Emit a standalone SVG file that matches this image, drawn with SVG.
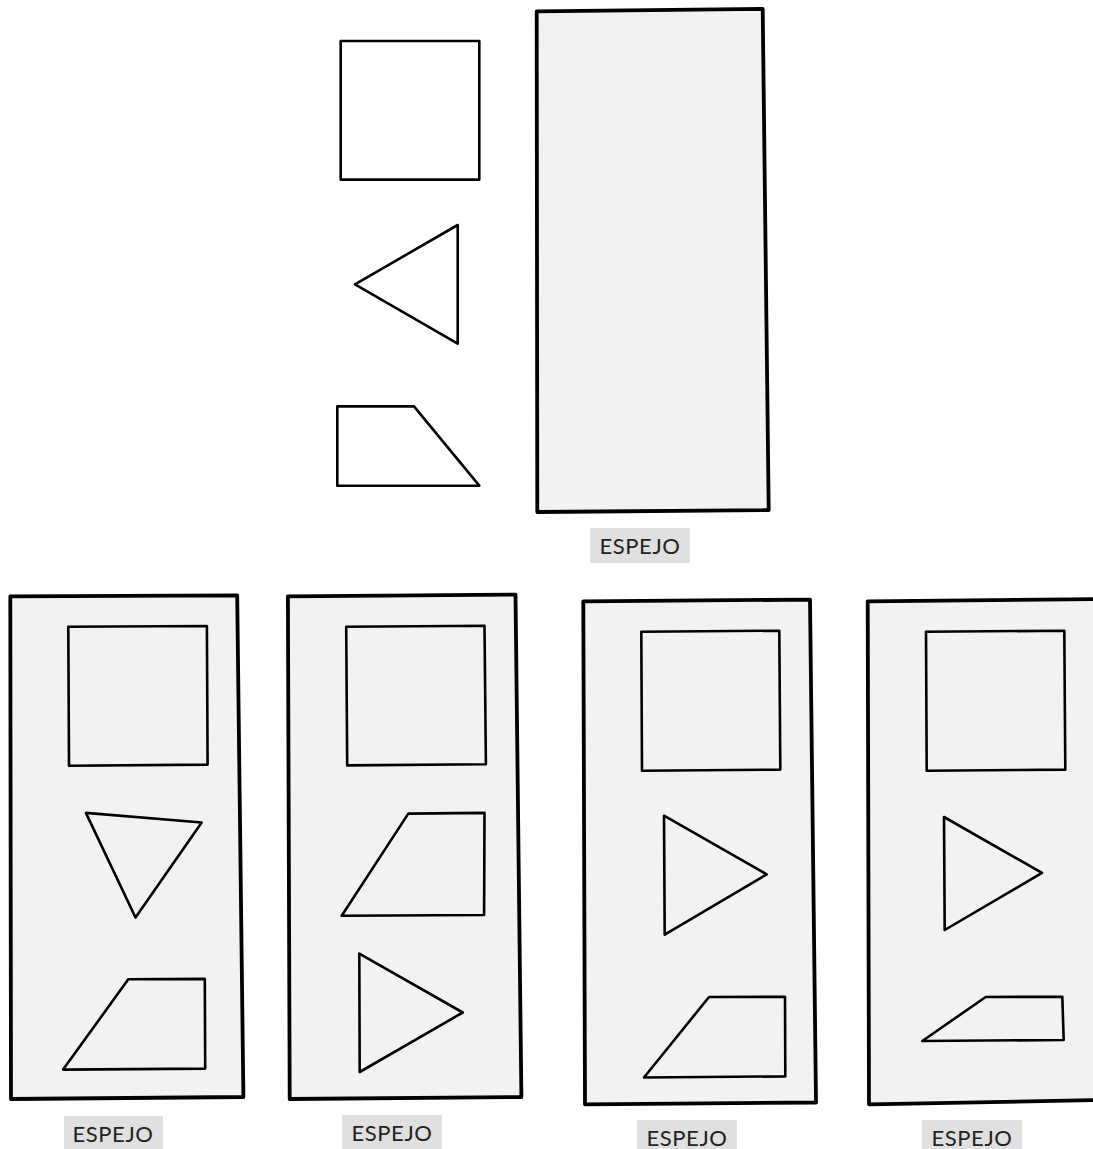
<svg xmlns="http://www.w3.org/2000/svg" width="1093" height="1149" viewBox="0 0 1093 1149">
<style>
.mirror{fill:#f2f2f2;stroke:#000;stroke-width:3.8;stroke-linejoin:round}
.shape{fill:none;stroke:#000;stroke-width:2.6;stroke-linejoin:round}
.lblbg{fill:#e0e0e0}
.lbl{font-family:Lato,"Liberation Sans",sans-serif;font-size:22px;letter-spacing:0.6px;fill:#222;text-anchor:middle}
</style>
<rect width="1093" height="1149" fill="#fff"/>
<g id="top">
  <g id="top-square"><polygon class="shape" points="340.7,41 479.3,41 479.3,179.6 340.7,179.6"/></g>
  <g id="top-triangle"><polygon class="shape" points="457.7,225 355,284.3 457.7,343.6"/></g>
  <g id="top-trapezoid"><polygon class="shape" points="337.3,406.4 414,406.4 479.3,485.7 337.3,485.7"/></g>
  <g id="top-mirror">
    <polygon class="mirror" points="536.7,11.4 762.7,8.9 768.7,510 537.3,512"/>
    <rect class="lblbg" x="590" y="528" width="100" height="35"/>
    <text class="lbl" x="640" y="554">ESPEJO</text>
  </g>
</g>
<g id="option1">
  <polygon class="mirror" points="10.3,596.4 237.2,595.4 243.4,1097 11,1099"/>
  <polygon class="shape" points="68.3,626.8 206.9,626 207.6,764.6 69,765.7"/>
  <polygon class="shape" points="85.9,812.9 201.7,822.5 135.5,917.5"/>
  <polygon class="shape" points="128.3,979.3 204.8,978.9 205.2,1068.6 63.1,1069.6"/>
  <rect class="lblbg" x="64" y="1116" width="99" height="35"/>
  <text class="lbl" x="113" y="1142">ESPEJO</text>
</g>
<g id="option2">
  <polygon class="mirror" points="287.9,596.4 515.5,594.6 521.4,1097 289.7,1099"/>
  <polygon class="shape" points="346.2,626.8 484.5,625.7 485.9,764.3 347.2,765.4"/>
  <polygon class="shape" points="408.3,813.6 484.5,812.9 484.1,915 341.7,915.7"/>
  <polygon class="shape" points="359.3,953.6 462.8,1012.5 359.7,1072"/>
  <rect class="lblbg" x="342" y="1115" width="100" height="35"/>
  <text class="lbl" x="392" y="1141">ESPEJO</text>
</g>
<g id="option3">
  <polygon class="mirror" points="583.3,601.4 810,599.6 816,1102.5 585,1104.3"/>
  <polygon class="shape" points="641.3,631.8 779.3,630.7 780.3,769.6 642,770.7"/>
  <polygon class="shape" points="664,815.7 766.7,874.3 664.7,934.6"/>
  <polygon class="shape" points="709,997 785,996.8 785.3,1076.4 644,1077.5"/>
  <rect class="lblbg" x="637" y="1120" width="100" height="35"/>
  <text class="lbl" x="687" y="1146">ESPEJO</text>
</g>
<g id="option4">
  <polygon class="mirror" points="867.7,601.4 1100,599 1105,1100 869,1104.3"/>
  <polygon class="shape" points="926,631.8 1064.3,630.7 1065.3,769.6 926.7,770.7"/>
  <polygon class="shape" points="944,817 1042,872.9 944.7,930"/>
  <polygon class="shape" points="985.7,997 1062.3,996.8 1063.7,1040 922.3,1041"/>
  <rect class="lblbg" x="922" y="1120" width="100" height="35"/>
  <text class="lbl" x="972" y="1146">ESPEJO</text>
</g>
<g id="connectors"/>
</svg>
